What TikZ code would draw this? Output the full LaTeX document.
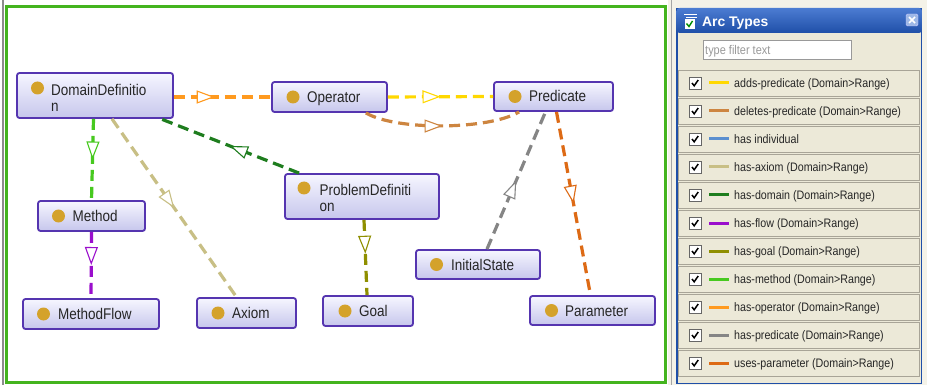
\documentclass[tikz,border=0pt]{standalone}
\usepackage{fontspec}
\setmainfont{Liberation Sans}
\newfontfamily\nodefont[FakeStretch=0.87]{Liberation Sans}
\usetikzlibrary{arrows.meta,decorations.markings}
\definecolor{clsborder}{HTML}{5535B0}
\definecolor{clstop}{HTML}{F6F6FF}
\definecolor{clsbot}{HTML}{C6C6EC}
\definecolor{dotc}{HTML}{D4A22B}
\definecolor{frameg}{HTML}{44B41E}
\definecolor{panelbg}{HTML}{ECE9D8}
\definecolor{panelblue}{HTML}{1F4FA8}
\definecolor{titletop}{HTML}{4C7CD2}
\definecolor{rowborder}{HTML}{A8A497}
\definecolor{cOp}{HTML}{FF9A1F}
\definecolor{cAdd}{HTML}{FFD800}
\definecolor{cDel}{HTML}{CD8540}
\definecolor{cInd}{HTML}{5B8FCF}
\definecolor{cAx}{HTML}{C8BF85}
\definecolor{cDom}{HTML}{1E7D1E}
\definecolor{cFlow}{HTML}{9A0ECC}
\definecolor{cGoal}{HTML}{8F8F00}
\definecolor{cMeth}{HTML}{47C91F}
\definecolor{cPred}{HTML}{858585}
\definecolor{cPar}{HTML}{DD6A15}
\begin{document}
\begin{tikzpicture}[x=1pt,y=-1pt,
  clsbox/.style={draw=clsborder, line width=1.8pt, rounded corners=2.5pt,
    top color=clstop, bottom color=clsbot, inner sep=0pt},
  dot/.style={circle, fill=dotc, minimum size=13pt, inner sep=0pt},
  lbl/.style={inner sep=0pt, anchor=base west, text=black!85, align=left,
    font={\nodefont\fontsize{15.5}{16.2}\selectfont}},
  rel/.style={draw=#1, line width=3.2pt, dash pattern=on 11pt off 6pt},
  mid/.style={postaction={decorate, decoration={markings, mark=at position #1 with
    {\arrow{Triangle[length=18pt,width=13pt,line width=1.1pt,fill=white]}}}}},
  rowbox/.style={draw=rowborder, fill=panelbg, line width=0.8pt, inner sep=0pt,
    minimum width=241pt, minimum height=26pt},
  chkbox/.style={draw=black!60, fill=white, line width=0.8pt, inner sep=0pt,
    minimum size=12pt},
  plbl/.style={inner sep=0pt, anchor=base west, text=black!85,
    font={\nodefont\fontsize{12.3}{13}\selectfont}}
]
\useasboundingbox (0,0) rectangle (927,385);
\fill[white] (0,0) rectangle (927,385);
% left window edge and green frame
\draw[black!45, line width=2pt] (3,0) -- (3,385);
\draw[frameg, line width=3pt] (6.5,6.5) rectangle (665.5,382.5);
% strip between frame and panel
\fill[panelbg!60!white] (668,0) rectangle (927,385);
\draw[black!35, line width=1.5pt] (671.5,0) -- (671.5,385);
% panel
\draw[panelblue, fill=panelbg, line width=1.5pt] (677,9) rectangle (921.5,383.5);
\shade[top color=titletop, bottom color=panelblue, rounded corners=3pt]
  (676.5,8) rectangle (922,33);
\node[inner sep=0pt, anchor=base west, text=white, font=\bfseries\fontsize{13.9}{14}\selectfont]
  (title) at (702,27) {Arc Types};
% title icon
\draw[white, line width=1.2pt] (684,14.5) -- (697,14.5);
\draw[white, line width=1pt] (686,17.5) -- (697,17.5);
\node[draw=white, fill=white, inner sep=0pt, minimum size=9pt] (icon) at (689.5,24) {};
\draw[green!55!black, line width=1.4pt] (686.5,23.5) -- (689,26.5) -- (692.5,21);
% close button
\node[draw=white!80!blue, fill=titletop!55!white, rounded corners=1.5pt, inner sep=0pt,
  minimum size=12pt] (close) at (912,20) {};
\draw[white, line width=1.6pt] ([shift={(-3pt,-3pt)}]close.center) -- ([shift={(3pt,3pt)}]close.center)
  ([shift={(-3pt,3pt)}]close.center) -- ([shift={(3pt,-3pt)}]close.center);
% filter box
\node[draw=black!40, fill=white, inner sep=0pt, minimum width=148pt, minimum height=19pt]
  (filter) at (777,50) {};
\node[plbl, text=black!40, font={\nodefont\fontsize{12.6}{13}\selectfont}]
  (filtertext) at (705,54.5) {type filter text};
% legend rows
\foreach \lab/\col [count=\i from 0] in {
  {adds-predicate (Domain>Range)}/cAdd,
  {deletes-predicate (Domain>Range)}/cDel,
  {has individual}/cInd,
  {has-axiom (Domain>Range)}/cAx,
  {has-domain (Domain>Range)}/cDom,
  {has-flow (Domain>Range)}/cFlow,
  {has-goal (Domain>Range)}/cGoal,
  {has-method (Domain>Range)}/cMeth,
  {has-operator (Domain>Range)}/cOp,
  {has-predicate (Domain>Range)}/cPred,
  {uses-parameter (Domain>Range)}/cPar}{
  \pgfmathsetmacro\cy{83+28*\i}
  \node[rowbox] (row\i) at (799,\cy) {};
  \node[chkbox] (chk\i) at (695,\cy) {};
  \draw[black, line width=1.5pt] ([shift={(-3pt,0pt)}]chk\i.center) -- ([shift={(-0.8pt,-2.8pt)}]chk\i.center)
    -- ([shift={(3.2pt,3pt)}]chk\i.center);
  \draw[\col, line width=3pt] (709,\cy) -- (729,\cy);
  \node[plbl] (lab\i) at (734,\cy+4.4) {\lab};
}
% ---- classes ----
\node[clsbox, minimum width=156pt, minimum height=45pt] (dd) at (95,95.5) {};
\node[dot] (dd-dot) at (37.5,88) {};
\node[lbl] (dd-t) at (51,111.5) {DomainDefinitio\\n};
\node[clsbox, minimum width=115pt, minimum height=30pt] (op) at (329.5,97) {};
\node[dot] (op-dot) at (293,97) {};
\node[lbl] (op-t) at (307,102.5) {Operator};
\node[clsbox, minimum width=119pt, minimum height=29pt] (pred) at (553.5,96.5) {};
\node[dot] (pred-dot) at (515,96.5) {};
\node[lbl] (pred-t) at (529,102) {Predicate};
\node[clsbox, minimum width=154pt, minimum height=45pt] (pd) at (362,196.5) {};
\node[dot] (pd-dot) at (304,188) {};
\node[lbl] (pd-t) at (319.5,211.5) {ProblemDefiniti\\on};
\node[clsbox, minimum width=107pt, minimum height=30pt] (m) at (91.5,216) {};
\node[dot] (m-dot) at (58.5,216) {};
\node[lbl] (m-t) at (72.5,221.5) {Method};
\node[clsbox, minimum width=136pt, minimum height=30pt] (mf) at (91,314) {};
\node[dot] (mf-dot) at (43.5,314) {};
\node[lbl] (mf-t) at (58,319.5) {MethodFlow};
\node[clsbox, minimum width=99pt, minimum height=30pt] (ax) at (246.5,313) {};
\node[dot] (ax-dot) at (218,313) {};
\node[lbl] (ax-t) at (232,318.5) {Axiom};
\node[clsbox, minimum width=90pt, minimum height=30pt] (goal) at (368,311) {};
\node[dot] (goal-dot) at (345,311) {};
\node[lbl] (goal-t) at (359,316.5) {Goal};
\node[clsbox, minimum width=124pt, minimum height=29pt] (is) at (478,264.5) {};
\node[dot] (is-dot) at (436.5,264.5) {};
\node[lbl] (is-t) at (451,270) {InitialState};
\node[clsbox, minimum width=125pt, minimum height=29pt] (par) at (592.5,310.5) {};
\node[dot] (par-dot) at (551.5,310.5) {};
\node[lbl] (par-t) at (565,316) {Parameter};
% ---- relations ----
\draw[rel=cOp, mid=0.42] (op.west -| dd.east) -- (op.west);
\draw[rel=cAdd, mid=0.5] (op.east) -- (pred.west);
\draw[rel=cDel, mid=0.5] ([xshift=-22pt]op.south east) .. controls +(30,18) and +(-30,18) .. ([xshift=26pt]pred.south west);
\draw[rel=cDom, mid=0.5] ([xshift=15pt]pd.north west) -- ([xshift=-13pt]dd.south east);
\draw[rel=cMeth, mid=0.5] ([xshift=-1.5pt]dd.south) -- (m.north);
\draw[rel=cAx, mid=0.5] ([xshift=17pt]dd.south) -- ([xshift=-10pt]ax.north);
\draw[rel=cFlow, mid=0.5] (m.south) -- (mf.north);
\draw[rel=cGoal, mid=0.45] ([xshift=2pt]pd.south) -- ([xshift=-1pt]goal.north);
\draw[rel=cPred, mid=0.5] ([xshift=9pt]is.north) -- ([xshift=-8pt]pred.south);
\draw[rel=cPar, mid=0.5] ([xshift=3pt]pred.south) -- ([xshift=-2pt]par.north);
\end{tikzpicture}
\end{document}
